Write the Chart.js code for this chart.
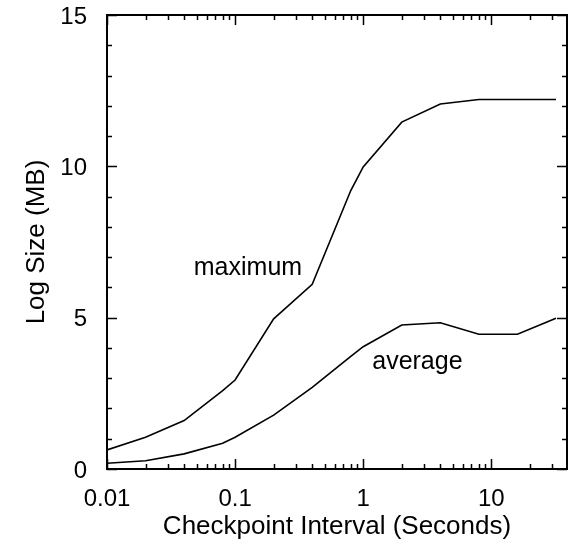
<!DOCTYPE html>
<html><head><meta charset="utf-8">
<script src="https://cdn.jsdelivr.net/npm/chart.js@4/dist/chart.umd.min.js"></script>
<style>html,body{margin:0;padding:0;background:#fff}</style>
</head><body>
<canvas id="c" width="574" height="552"></canvas>
<script>
// ---- data ----
const intervals = [0.01, 0.02, 0.04, 0.08, 0.1, 0.2, 0.4, 0.8, 1, 2, 4, 8, 16, 32];
const maximumMB = [0.63, 1.05, 1.6, 2.59, 2.94, 4.96, 6.1, 9.2, 9.98, 11.46, 12.06, 12.21, 12.21, 12.21];
const averageMB = [0.19, 0.27, 0.5, 0.85, 1.05, 1.78, 2.7, 3.72, 4.04, 4.76, 4.83, 4.45, 4.45, 4.98];
const xMajorTicks = [0.01, 0.1, 1, 10];
const xTickLabels = ['0.01', '0.1', '1', '10'];
const yMajorTicks = [0, 5, 10, 15];
const yTickLabels = ['0', '5', '10', '15'];
const seriesNames = ['maximum', 'average'];
const xTitle = 'Checkpoint Interval (Seconds)';
const yTitle = 'Log Size (MB)';

const FONT = '"Liberation Sans", Arial, Helvetica, sans-serif';

const frameTicks = {
  id: 'frameTicks',
  afterDatasetsDraw(chart) {
    const {ctx, chartArea: a, scales: {x, y}} = chart;
    ctx.save();
    ctx.strokeStyle = '#000';
    ctx.lineWidth = 1.5;
    ctx.beginPath();
    x.ticks.forEach(t => {
      const px = Math.round(x.getPixelForValue(t.value)) + 0.5;
      const len = xMajorTicks.includes(t.value) ? 10 : 5;
      ctx.moveTo(px, a.bottom); ctx.lineTo(px, a.bottom - len);
      ctx.moveTo(px, a.top); ctx.lineTo(px, a.top + len);
    });
    y.ticks.forEach(t => {
      const py = Math.round(y.getPixelForValue(t.value)) + 0.5;
      const len = yMajorTicks.includes(t.value) ? 10 : 5;
      ctx.moveTo(a.left, py); ctx.lineTo(a.left + len, py);
      ctx.moveTo(a.right, py); ctx.lineTo(a.right - len, py);
    });
    ctx.stroke();
    ctx.lineWidth = 2;
    ctx.strokeRect(a.left, a.top, a.right - a.left, a.bottom - a.top);
    // series labels
    const opts = chart.options.plugins.frameTicks;
    ctx.fillStyle = '#000';
    ctx.font = '25px ' + FONT;
    ctx.textAlign = 'center';
    ctx.textBaseline = 'middle';
    opts.labels.forEach(l => {
      ctx.fillText(l.text, x.getPixelForValue(l.x), y.getPixelForValue(l.y));
    });
    ctx.restore();
  }
};

function noPad(scale) {
  scale.paddingTop = 0; scale.paddingBottom = 0;
  scale.paddingLeft = 0; scale.paddingRight = 0;
}

new Chart(document.getElementById('c'), {
  type: 'line',
  data: {
    labels: intervals,
    datasets: [
      {label: seriesNames[0], data: intervals.map((v, i) => ({x: v, y: maximumMB[i]})),
       borderColor: '#000', borderWidth: 1.6, pointRadius: 0, tension: 0, fill: false},
      {label: seriesNames[1], data: intervals.map((v, i) => ({x: v, y: averageMB[i]})),
       borderColor: '#000', borderWidth: 1.6, pointRadius: 0, tension: 0, fill: false}
    ]
  },
  options: {
    responsive: false,
    animation: false,
    devicePixelRatio: 1,
    layout: {padding: {top: 15, right: 7, left: 0, bottom: 0}},
    plugins: {
      legend: {display: false},
      tooltip: {enabled: false},
      frameTicks: {labels: [
        {text: seriesNames[0], x: 0.126, y: 6.64},
        {text: seriesNames[1], x: 2.65, y: 3.53}
      ]}
    },
    scales: {
      x: {
        type: 'logarithmic', min: 0.01, max: 39,
        afterBuildTicks(scale) {
          const t = [];
          for (let d = 0.01; d < 100; d *= 10) {
            for (let m = 1; m <= 9; m++) {
              const v = +(d * m).toPrecision(3);
              if (v <= scale.max) t.push({value: v});
            }
          }
          scale.ticks = t;
        },
        afterFit(scale) { scale.height = 83; noPad(scale); },
        grid: {display: false, drawTicks: false},
        border: {display: false},
        ticks: {
          autoSkip: false, maxRotation: 0, padding: 16, color: '#000',
          font: {family: FONT, size: 24},
          callback(v) { const i = xMajorTicks.indexOf(+(+v).toPrecision(3)); return i >= 0 ? xTickLabels[i] : ''; }
        },
        title: {display: true, text: xTitle, color: '#000', font: {family: FONT, size: 26}, padding: {top: 0, bottom: 10}}
      },
      y: {
        min: 0, max: 15,
        afterBuildTicks(scale) {
          const t = [];
          for (let v = 0; v <= 15; v++) t.push({value: v});
          scale.ticks = t;
        },
        afterFit(scale) { scale.width = 107; noPad(scale); },
        grid: {display: false, drawTicks: false},
        border: {display: false},
        ticks: {
          autoSkip: false, padding: 20, color: '#000', labelOffset: 2,
          font: {family: FONT, size: 24},
          callback(v) { const i = yMajorTicks.indexOf(v); return i >= 0 ? yTickLabels[i] : ''; }
        },
        title: {display: true, text: yTitle, color: '#000', font: {family: FONT, size: 26}, padding: {top: 21, bottom: 0}}
      }
    }
  },
  plugins: [frameTicks]
});
</script>
</body></html>
